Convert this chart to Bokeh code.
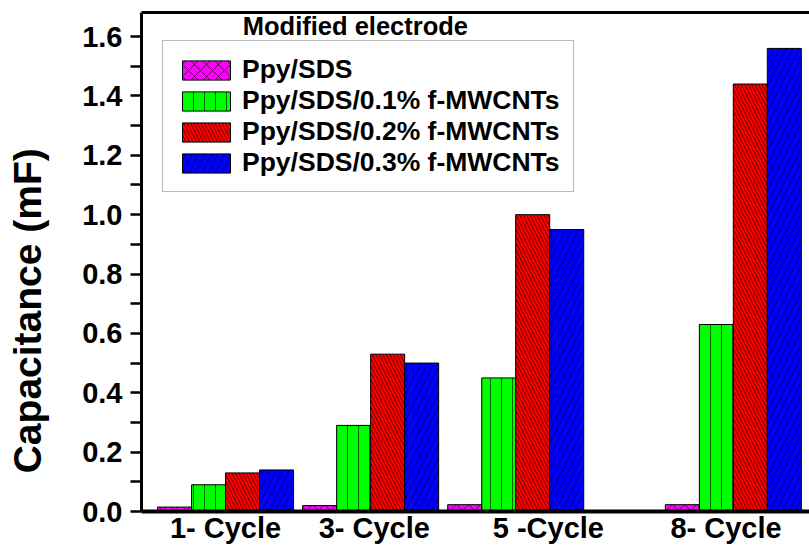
from bokeh.plotting import figure
from bokeh.models import (ColumnDataSource, Range1d, FixedTicker, LinearAxis, Legend,
                          LegendItem, Label, NumeralTickFormatter)
from bokeh.embed import file_html
from bokeh.resources import INLINE

# ---- data ----
cycles = [1, 3, 5, 8]
cycle_labels = ["1- Cycle", "3- Cycle", "5 -Cycle", "8- Cycle"]
label_pos = [1.0, 3.05, 5.45, 7.9]
series_names = ["Ppy/SDS", "Ppy/SDS/0.1% f-MWCNTs", "Ppy/SDS/0.2% f-MWCNTs", "Ppy/SDS/0.3% f-MWCNTs"]
ppy_sds = [0.015, 0.02, 0.023, 0.023]
mwcnt_01 = [0.09, 0.29, 0.45, 0.63]
mwcnt_02 = [0.13, 0.53, 1.00, 1.44]
mwcnt_03 = [0.14, 0.50, 0.95, 1.56]
y_ticks = [0.0, 0.2, 0.4, 0.6, 0.8, 1.0, 1.2, 1.4, 1.6]
y_minor = [0.1, 0.3, 0.5, 0.7, 0.9, 1.1, 1.3, 1.5]

series = [ppy_sds, mwcnt_01, mwcnt_02, mwcnt_03]
colors = ["#FF00FF", "#00FF00", "#FF0000", "#0000FF"]
hatches = ["x", "|", "\\", "/"]
hatch_scales = [12, 11, 7, 13]
offsets = [-0.703, -0.234, 0.234, 0.703]
bar_w = 0.469
FONT = "Liberation Sans"

p = figure(width=809, height=546, output_backend="svg", toolbar_location=None,
           x_range=Range1d(-0.159, 9.05), y_range=Range1d(0, 1.681),
           min_border_left=141, min_border_right=0, min_border_top=12, min_border_bottom=0)
p.outline_line_color = None
p.xgrid.visible = False
p.ygrid.visible = False
p.background_fill_color = "white"

renderers = []
for vals, col, hp, hs, off in zip(series, colors, hatches, hatch_scales, offsets):
    src = ColumnDataSource(dict(x=[c + off for c in cycles], top=vals))
    r = p.vbar(x="x", top="top", width=bar_w, bottom=0, source=src,
               fill_color=col, line_color="black", line_width=1,
               hatch_pattern=hp, hatch_color="black", hatch_alpha=0.75,
               hatch_weight=0.8, hatch_scale=hs)
    renderers.append(r)

# y axis
ya = p.yaxis[0]
ya.ticker = FixedTicker(ticks=y_ticks, minor_ticks=y_minor)
ya.formatter = NumeralTickFormatter(format="0.0")
# trailing no-break spaces push the visible title lower, as in the original
ya.axis_label = "Capacitance (mF)" + "\u00a0" * 9
ya.axis_label_text_font = FONT
ya.axis_label_text_font_style = "bold"
ya.axis_label_text_font_size = "39px"
ya.axis_label_text_color = "black"
ya.axis_label_standoff = 30
ya.major_label_text_font = FONT
ya.major_label_text_font_style = "bold"
ya.major_label_text_font_size = "29px"
ya.major_label_text_color = "black"
ya.major_label_standoff = 8
ya.axis_line_width = 3
ya.major_tick_line_width = 2.5
ya.minor_tick_line_width = 2.5
ya.major_tick_out = 11
ya.major_tick_in = 0
ya.minor_tick_out = 11
ya.minor_tick_in = 0

# x axis
xa = p.xaxis[0]
xa.ticker = FixedTicker(ticks=label_pos, minor_ticks=[])
xa.major_label_overrides = {pos: lab for pos, lab in zip(label_pos, cycle_labels)}
xa.major_label_text_font = FONT
xa.major_label_text_font_style = "bold"
xa.major_label_text_font_size = "29px"
xa.major_label_text_color = "black"
xa.major_label_standoff = 0
xa.axis_line_width = 4
xa.major_tick_out = 0
xa.major_tick_in = 0
xa.minor_tick_out = 0

# top border as an axis line
top = LinearAxis(ticker=FixedTicker(ticks=label_pos, minor_ticks=[]),
                 major_label_text_font_size="1px", major_label_text_alpha=0,
                 major_tick_out=0, major_tick_in=0, minor_tick_out=0, minor_tick_in=0,
                 major_label_standoff=0, axis_line_width=3, axis_line_color="black")
p.add_layout(top, "above")

legend = Legend(items=[LegendItem(label=n, renderers=[r]) for n, r in zip(series_names, renderers)],
                location=(21, 319))
legend.label_text_font = FONT
legend.label_text_font_style = "bold"
legend.label_text_font_size = "26.5px"
legend.label_text_color = "black"
legend.glyph_width = 60
legend.glyph_height = 24
legend.label_height = 24
legend.spacing = 0
legend.padding = 13
legend.label_standoff = 6
legend.border_line_color = "#777777"
legend.border_line_width = 1.5
legend.background_fill_alpha = 1
p.add_layout(legend, "center")

title = Label(x=2.79, y=1.634, text="Modified electrode", text_font=FONT,
              text_font_style="bold", text_font_size="25.5px", text_color="black",
              text_align="center", text_baseline="middle")
p.add_layout(title)

open("out.html", "w").write(file_html(p, INLINE))
